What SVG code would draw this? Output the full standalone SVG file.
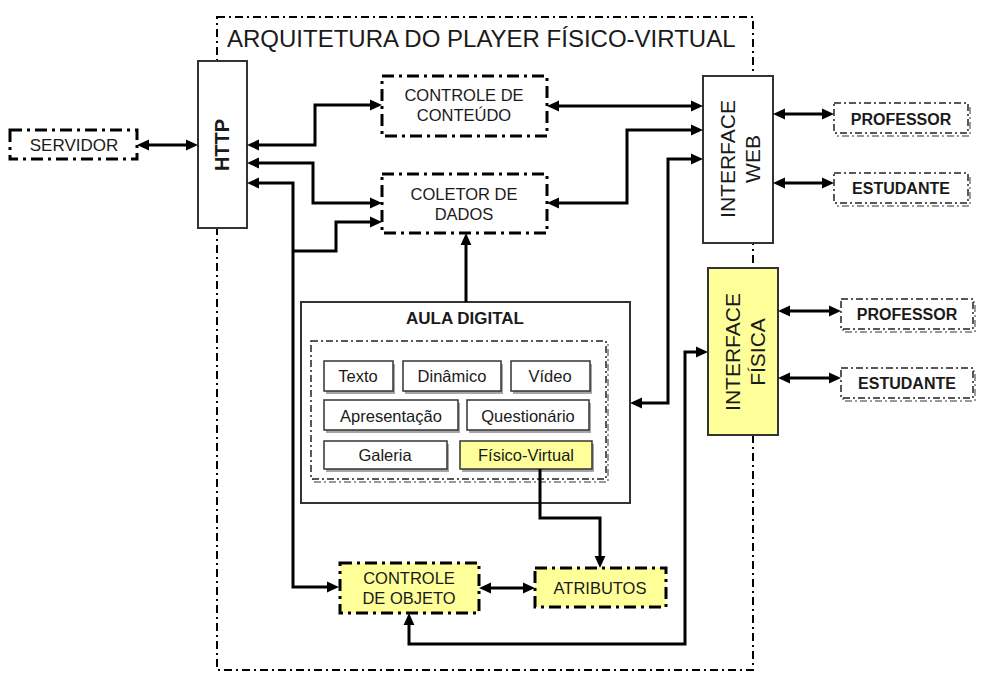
<svg xmlns="http://www.w3.org/2000/svg" width="987" height="686" viewBox="0 0 987 686">
<defs>
<style>
text{font-family:"Liberation Sans",Arial,sans-serif;fill:#1a1a1a;}
.c{text-anchor:middle;}
.t{font-size:16.5px;}
.b{font-weight:bold;}
.frame{fill:none;stroke:#000;stroke-width:2;stroke-dasharray:8 4 2 4;}
.dd{fill:#fff;stroke:#000;stroke-width:3;stroke-dasharray:12 5 3 5;}
.ddy{fill:#ffff99;stroke:#000;stroke-width:3;stroke-dasharray:12 5 3 5;}
.dt{fill:#fff;stroke:#222;stroke-width:1.5;stroke-dasharray:7 3 2 3;}
.dsh{fill:none;stroke:#999;stroke-width:2;stroke-dasharray:7 3 2 3;}
.box{fill:#fff;stroke:#333;stroke-width:2;}
.boxy{fill:#ffff99;stroke:#333;stroke-width:2;}
.item{fill:#fff;stroke:#333;stroke-width:1.5;}
.itemy{fill:#ffff99;stroke:#333;stroke-width:1.5;}
.sh{fill:#a6a6a6;}
.conn path{fill:none;stroke:#000;stroke-width:3;}
.bi{marker-start:url(#ah);marker-end:url(#ah);}
.uni{marker-end:url(#ah);}
</style>
<marker id="ah" markerUnits="userSpaceOnUse" markerWidth="12" markerHeight="12" refX="5" refY="4.5" orient="auto-start-reverse" viewBox="0 0 10 9">
<path d="M0,0 L10,4.5 L0,9 z" fill="#000"/>
</marker>
</defs>
<rect width="987" height="686" fill="#fff"/>

<g id="frame">
<rect class="frame" x="217" y="17" width="536" height="653"/>
<text x="227" y="47" style="font-size:24px">ARQUITETURA DO PLAYER FÍSICO-VIRTUAL</text>
</g>

<g id="servidor">
<rect class="dd" x="10" y="130" width="127" height="29"/>
<text class="c" x="74" y="151" style="font-size:17px">SERVIDOR</text>
</g>

<g id="http">
<rect class="box" x="198" y="61" width="49" height="167"/>
<text class="c b" transform="translate(229,145) rotate(-90)" style="font-size:20px">HTTP</text>
</g>

<g id="controle-conteudo">
<rect class="dd" x="382" y="76" width="165" height="60"/>
<text class="c t" x="464" y="101">CONTROLE DE</text>
<text class="c t" x="464" y="121">CONTEÚDO</text>
</g>

<g id="coletor-dados">
<rect class="dd" x="382" y="174" width="165" height="59"/>
<text class="c t" x="464" y="200">COLETOR DE</text>
<text class="c t" x="464" y="220">DADOS</text>
</g>

<g id="interface-web">
<rect class="box" x="703" y="76" width="70" height="167"/>
<text class="c" transform="translate(735,159) rotate(-90)" style="font-size:21px">INTERFACE</text>
<text class="c" transform="translate(760,159) rotate(-90)" style="font-size:21px">WEB</text>
</g>

<g id="interface-fisica">
<rect class="boxy" x="708" y="268" width="70" height="167"/>
<text class="c" transform="translate(740,352) rotate(-90)" style="font-size:21px">INTERFACE</text>
<text class="c" transform="translate(765,352) rotate(-90)" style="font-size:21px">FÍSICA</text>
</g>

<g id="professor-web">
<rect class="dsh" x="836" y="106" width="134" height="30"/>
<rect class="dt" x="834" y="103" width="134" height="30"/>
<text class="c b" x="901" y="125" style="font-size:16px">PROFESSOR</text>
</g>
<g id="estudante-web">
<rect class="dsh" x="836" y="176" width="134" height="30"/>
<rect class="dt" x="834" y="173" width="134" height="30"/>
<text class="c b" x="901" y="194" style="font-size:16px">ESTUDANTE</text>
</g>
<g id="professor-fisica">
<rect class="dsh" x="843" y="302" width="132" height="30"/>
<rect class="dt" x="841" y="299" width="132" height="30"/>
<text class="c b" x="907" y="320" style="font-size:16px">PROFESSOR</text>
</g>
<g id="estudante-fisica">
<rect class="dsh" x="843" y="371" width="132" height="30"/>
<rect class="dt" x="841" y="368" width="132" height="30"/>
<text class="c b" x="907" y="389" style="font-size:16px">ESTUDANTE</text>
</g>

<g id="aula-digital">
<rect class="box" x="301" y="302" width="329" height="201"/>
<text class="c b" x="465" y="324" style="font-size:17px">AULA DIGITAL</text>
<rect class="dsh" x="313" y="344" width="295" height="138"/>
<rect class="dt" x="311" y="341" width="295" height="138"/>
</g>

<g id="texto">
<rect class="sh" x="326" y="364" width="69" height="30"/>
<rect class="item" x="324" y="361" width="69" height="30"/>
<text class="c t" x="358" y="382">Texto</text>
</g>
<g id="dinamico">
<rect class="sh" x="405" y="364" width="98" height="30"/>
<rect class="item" x="403" y="361" width="98" height="30"/>
<text class="c t" x="452" y="382">Dinâmico</text>
</g>
<g id="video">
<rect class="sh" x="513" y="364" width="79" height="30"/>
<rect class="item" x="511" y="361" width="79" height="30"/>
<text class="c t" x="550" y="382">Vídeo</text>
</g>
<g id="apresentacao">
<rect class="sh" x="326" y="403" width="134" height="30"/>
<rect class="item" x="324" y="400" width="134" height="30"/>
<text class="c t" x="391" y="422">Apresentação</text>
</g>
<g id="questionario">
<rect class="sh" x="469" y="403" width="122" height="30"/>
<rect class="item" x="467" y="400" width="122" height="30"/>
<text class="c t" x="528" y="422">Questionário</text>
</g>
<g id="galeria">
<rect class="sh" x="326" y="444" width="123" height="28"/>
<rect class="item" x="324" y="441" width="123" height="28"/>
<text class="c t" x="385" y="461">Galeria</text>
</g>
<g id="fisico-virtual">
<rect class="sh" x="462" y="444" width="132" height="28"/>
<rect class="itemy" x="460" y="441" width="132" height="28"/>
<text class="c t" x="526" y="461">Físico-Virtual</text>
</g>

<g id="controle-objeto">
<rect class="ddy" x="340" y="563" width="139" height="50"/>
<text class="c t" x="409" y="584">CONTROLE</text>
<text class="c t" x="409" y="604">DE OBJETO</text>
</g>

<g id="atributos">
<rect class="ddy" x="535" y="568" width="131" height="39"/>
<text class="c t" x="600" y="594">ATRIBUTOS</text>
</g>

<g id="connectors" class="conn">
<path class="bi" d="M143,145 H192"/>
<path class="bi" d="M253,145 H315 V105 H376"/>
<path class="bi" d="M253,163 H313 V203 H376"/>
<path class="bi" d="M253,183 H293 V587 H333"/>
<path class="uni" d="M293,251 H336 V222 H376"/>
<path class="bi" d="M553,106 H697"/>
<path class="bi" d="M553,203 H627 V130 H697"/>
<path class="bi" d="M636,403 H668 V159 H697"/>
<path class="bi" d="M779,114 H828"/>
<path class="bi" d="M779,183 H828"/>
<path class="bi" d="M784,311 H835"/>
<path class="bi" d="M784,378 H835"/>
<path class="bi" d="M702,352 H685 V644 H409 V619"/>
<path class="uni" d="M466,302 V239"/>
<path class="uni" d="M540,469 V518 H600 V562"/>
<path class="bi" d="M485,588 H529"/>
</g>
</svg>
